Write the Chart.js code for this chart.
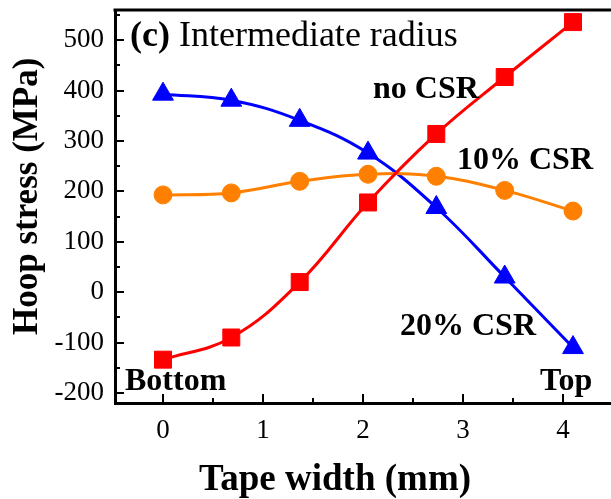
<!DOCTYPE html>
<html>
<head>
<meta charset="utf-8">
<script src="https://cdn.jsdelivr.net/npm/chart.js@4"></script>
<style>
    html, body { margin: 0; padding: 0; background: #fff; }
    #wrap { width: 611px; height: 499px; }
</style>
</head>
<body>
<div id="wrap"><canvas id="hoopChart" width="611" height="499"></canvas></div>
<script>
// Tape width positions (mm)
const tapeWidth = [0, 0.683, 1.367, 2.05, 2.733, 3.417, 4.1];

// Hoop stress (MPa)
const noCSR = [-134, -90, 20, 178, 314, 427, 536];
const csr10 = [193, 197, 220, 234, 230, 202, 161];
const csr20 = [393, 381, 341, 276, 168, 30, -110];

const yMinorTicks = [-150, -50, 50, 150, 250, 350, 450, 550];
const xMinorTicks = [0.5, 1.5, 2.5, 3.5];

// Text labels placed in data units
const labelTexts = ["no CSR", "10% CSR", "20% CSR", "Bottom", "Top"];
const labelX = [2.10, 2.94, 2.37, -0.38, 3.77];
const labelY = [385, 245, -86, -195, -195];

const serif = "'Liberation Serif', 'Times New Roman', serif";

function toPoints(values)
{
    return values.map((v, i) => ({ x: tapeWidth[i], y: v }));
}

const decorPlugin = {
    id: 'decor',
    afterDraw(chart)
    {
        const ctx = chart.ctx;
        const area = chart.chartArea;
        const xs = chart.scales.x;
        const ys = chart.scales.y;

        ctx.save();
        ctx.strokeStyle = '#000';

        // top frame line
        ctx.lineWidth = 3;
        ctx.beginPath();
        ctx.moveTo(area.left - 1.5, area.top);
        ctx.lineTo(area.right, area.top);
        ctx.stroke();

        // inward tick marks
        ctx.lineWidth = 2;
        ys.ticks.forEach(t =>
        {
            const p = Math.round(ys.getPixelForValue(t.value));
            ctx.beginPath(); ctx.moveTo(area.left, p); ctx.lineTo(area.left + 9, p); ctx.stroke();
        });
        yMinorTicks.forEach(v =>
        {
            const p = Math.round(ys.getPixelForValue(v));
            ctx.beginPath(); ctx.moveTo(area.left, p); ctx.lineTo(area.left + 5, p); ctx.stroke();
        });
        xs.ticks.forEach(t =>
        {
            const p = Math.round(xs.getPixelForValue(t.value));
            ctx.beginPath(); ctx.moveTo(p, area.bottom); ctx.lineTo(p, area.bottom - 9); ctx.stroke();
        });
        xMinorTicks.forEach(v =>
        {
            const p = Math.round(xs.getPixelForValue(v));
            ctx.beginPath(); ctx.moveTo(p, area.bottom); ctx.lineTo(p, area.bottom - 5); ctx.stroke();
        });

        ctx.fillStyle = '#000';
        ctx.textBaseline = 'alphabetic';
        ctx.textAlign = 'left';

        // panel title
        const tx = xs.getPixelForValue(-0.33);
        const ty = ys.getPixelForValue(488);
        ctx.font = "bold 36px " + serif;
        ctx.fillText("(c)", tx, ty);
        const w = ctx.measureText("(c) ").width;
        ctx.font = "36px " + serif;
        ctx.fillText("Intermediate radius", tx + w, ty);

        // curve labels
        ctx.font = "bold 32px " + serif;
        labelTexts.forEach((txt, i) =>
        {
            ctx.fillText(txt, xs.getPixelForValue(labelX[i]), ys.getPixelForValue(labelY[i]));
        });

        // axis titles
        ctx.font = "bold 37px " + serif;
        ctx.fillText("Tape width (mm)", 199, 490);

        ctx.font = "bold 35px " + serif;
        ctx.translate(37, 335);
        ctx.rotate(-Math.PI / 2);
        ctx.fillText("Hoop stress (MPa)", 0, 0);

        ctx.restore();
    }
};

function makeSeries(label, values, color, style, radius)
{
    return {
        label,
        data: toPoints(values),
        borderColor: color,
        backgroundColor: color,
        borderWidth: 3,
        pointStyle: style,
        pointRadius: radius,
        pointHoverRadius: radius,
        pointBorderWidth: 1,
        tension: 0.4,
        fill: false
    };
}

const chart = new Chart(document.getElementById("hoopChart"), {
    type: 'line',
    data: {
        datasets: [
            makeSeries('no CSR', noCSR, '#ff0000', 'rect', 12),
            makeSeries('10% CSR', csr10, '#ff8000', 'circle', 9),
            makeSeries('20% CSR', csr20, '#0000ff', 'triangle', 12)
        ]
    },
    options: {
        responsive: false,
        animation: false,
        events: [],
        layout: {
            autoPadding: false,
            padding: { top: 10, right: 0, left: 0, bottom: 0 }
        },
        plugins: {
            legend: { display: false },
            tooltip: { enabled: false }
        },
        scales: {
            x: {
                type: 'linear',
                min: -0.48,
                max: 4.48,
                grid: { display: true, drawOnChartArea: false, drawTicks: false },
                border: { display: true, width: 3, color: '#000' },
                ticks: {
                    stepSize: 1,
                    includeBounds: false,
                    color: '#000',
                    padding: 12,
                    font: { family: serif, size: 27 }
                },
                afterFit: scale =>
                {
                    scale.height = 96;
                    scale.paddingLeft = 0;
                    scale.paddingRight = 0;
                }
            },
            y: {
                type: 'linear',
                min: -220,
                max: 560,
                grid: { display: true, drawOnChartArea: false, drawTicks: false },
                border: { display: true, width: 3, color: '#000' },
                ticks: {
                    stepSize: 100,
                    includeBounds: false,
                    color: '#000',
                    padding: 11,
                    font: { family: serif, size: 27 }
                },
                afterFit: scale =>
                {
                    scale.width = 115;
                    scale.paddingTop = 0;
                    scale.paddingBottom = 0;
                }
            }
        }
    },
    plugins: [decorPlugin]
});
</script>
</body>
</html>
